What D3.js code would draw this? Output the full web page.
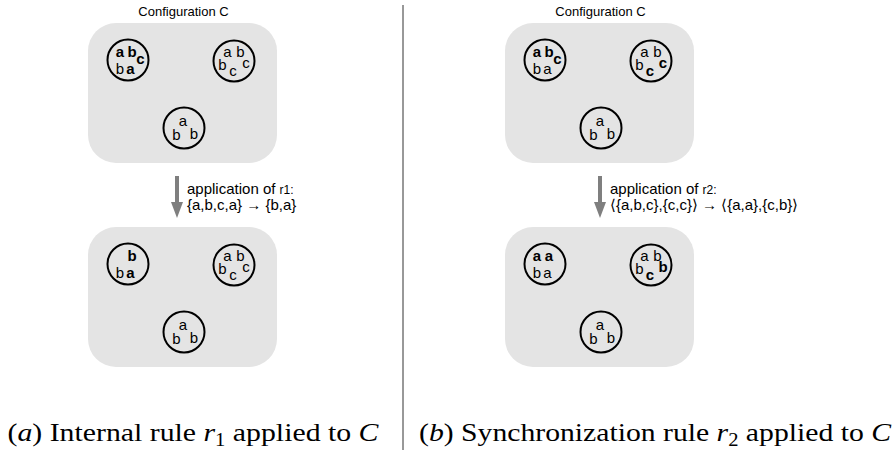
<!DOCTYPE html>
<html lang="en">
  <head>
    <meta charset="UTF-8">
    <title>Rule application</title>
    <style>
      body { margin: 0; background: #fff; }
    </style>
  </head>
  <body>
<script src="https://d3js.org/d3.v7.min.js"></script>
<div id="my_dataviz"></div>
<script>

// data
var titles = ["Configuration C", "Configuration C"]
var ruleNames = ["r", "r"]
var ruleIndex = ["1", "2"]
var ruleTexts = ["{a,b,c,a} \u2192 {b,a}", "\u27e8{a,b,c},{c,c}\u27e9 \u2192 \u27e8{a,a},{c,b}\u27e9"]
var captionPrefix = ["a", "b"]
var captionText = [" Internal rule ", " Synchronization rule "]

// membrane contents: [panel][before/after][membrane] -> letters, bold flags
var letters = [
  [ [["a","b","c","b","a"], ["a","b","b","c","c"], ["a","b","b"]],
    [["","b","","b","a"],   ["a","b","b","c","c"], ["a","b","b"]] ],
  [ [["a","b","c","b","a"], ["a","b","b","c","c"], ["a","b","b"]],
    [["a","a","","b","a"],  ["a","b","b","c","b"], ["a","b","b"]] ]
]
var bold = [
  [ [[1,1,1,0,1], [0,0,0,0,0], [0,0,0]],
    [[0,1,0,0,1], [0,0,0,0,0], [0,0,0]] ],
  [ [[1,1,1,0,0], [0,0,0,1,1], [0,0,0]],
    [[1,1,0,0,0], [0,0,0,1,1], [0,0,0]] ]
]

// layout
var width = 893, height = 450
var boxLeft = [88, 505], boxW = 189, boxH = 140, boxR = 28
var boxTop = [23, 227]
var arrowX = [177, 600]
var memb = [[40, 37], [146, 38], [96, 105]]   // centers relative to box
var radius = 20.5
var slots = [
  [[-8,-3],[4,-3],[12.5,4],[-8,13.5],[2.5,13.5]],
  [[-6.5,-4],[6.5,-4],[-11.5,8.5],[-1,14.5],[12,7]],
  [[-1,-2.5],[-7.7,12],[10,10.5]]
]

var svg = d3.select("#my_dataviz")
  .append("svg")
    .attr("width", width)
    .attr("height", height)

var sans = "'Liberation Sans', Arial, sans-serif"
var serif = "'Liberation Serif', 'DejaVu Serif', serif"

// divider
svg.append("line")
  .attr("x1", 403).attr("x2", 403)
  .attr("y1", 5).attr("y2", 450)
  .attr("stroke", "#333").attr("stroke-width", 1)

titles.forEach(function(t, p) {
  var g = svg.append("g").attr("transform", "translate(" + boxLeft[p] + ",0)")

  g.append("text")
    .attr("x", boxW / 2 + 1).attr("y", 15.5)
    .attr("text-anchor", "middle")
    .style("font-family", sans).style("font-size", "13px")
    .text(t)

  boxTop.forEach(function(top, s) {
    g.append("rect")
      .attr("x", 0).attr("y", top)
      .attr("width", boxW).attr("height", boxH)
      .attr("rx", boxR).attr("ry", boxR)
      .attr("fill", "#e4e4e4")

    memb.forEach(function(c, m) {
      var mg = g.append("g").attr("transform", "translate(" + c[0] + "," + (top + c[1]) + ")")
      mg.append("circle")
        .attr("r", radius)
        .attr("fill", "none")
        .attr("stroke", "#000")
        .attr("stroke-width", 2)
      mg.selectAll("text")
        .data(letters[p][s][m])
        .enter()
        .append("text")
          .attr("x", function(d, i) { return slots[m][i][0] })
          .attr("y", function(d, i) { return slots[m][i][1] })
          .attr("text-anchor", "middle")
          .style("font-family", sans)
          .style("font-size", "15px")
          .style("font-weight", function(d, i) { return bold[p][s][m][i] ? "bold" : "normal" })
          .text(function(d) { return d })
    })
  })

  // arrow
  var ax = arrowX[p] - boxLeft[p]
  g.append("rect")
    .attr("x", ax - 2).attr("y", 176)
    .attr("width", 4).attr("height", 27)
    .attr("fill", "#7f7f7f")
  g.append("path")
    .attr("d", d3.line()([[ax - 6, 202], [ax + 6, 202], [ax, 218]]))
    .attr("fill", "#7f7f7f")

  var rt = g.append("text")
    .attr("x", ax + 10).attr("y", 194)
    .style("font-family", sans).style("font-size", "15px")
  rt.append("tspan").text("application of ")
  rt.append("tspan").style("font-size", "12px").text(ruleNames[p] + ruleIndex[p] + ":")
  g.append("text")
    .attr("x", ax + 10).attr("y", 210)
    .style("font-family", sans).style("font-size", "15px")
    .text(ruleTexts[p])
})

// captions
var capX = [193, 655], capLen = [371, 472]
captionPrefix.forEach(function(cp, p) {
  var t = svg.append("text")
    .attr("x", capX[p]).attr("y", 441)
    .attr("text-anchor", "middle")
    .attr("textLength", capLen[p])
    .attr("lengthAdjust", "spacingAndGlyphs")
    .style("font-family", serif).style("font-size", "26px")
  t.append("tspan").text("(")
  t.append("tspan").style("font-style", "italic").text(cp)
  t.append("tspan").text(")" + captionText[p])
  t.append("tspan").style("font-style", "italic").text(ruleNames[p])
  t.append("tspan").attr("dy", 5).style("font-size", "18px").text(ruleIndex[p])
  t.append("tspan").attr("dy", -5).text(" applied to ")
  t.append("tspan").style("font-style", "italic").text("C")
})

</script>
  </body>
</html>
